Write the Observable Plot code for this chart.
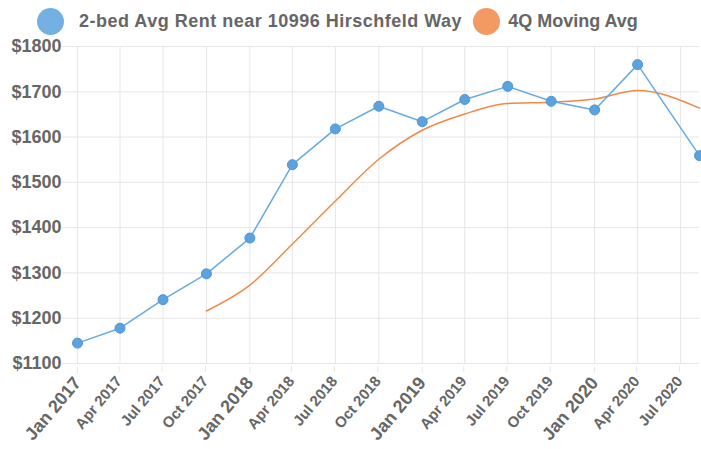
<!DOCTYPE html>
<html>
<head>
<meta charset="utf-8">
<script src="https://cdn.jsdelivr.net/npm/d3@7"></script>
<script src="https://cdn.jsdelivr.net/npm/@observablehq/plot@0.6"></script>
<style>
  body { margin: 0; background: #fff; font-family: "Liberation Sans", Arial, sans-serif; }
  #legend { height: 34px; display: flex; align-items: center; padding-left: 37px; padding-top: 9px; box-sizing: border-box; }
  .sw { width: 27px; height: 27px; border-radius: 50%; flex: none; }
  .lab { font-size: 18px; font-weight: bold; color: #666; white-space: nowrap; }
  svg { overflow: visible; }
</style>
</head>
<body>
<div id="legend"></div>
<div id="chart"></div>
<script>
// ---- data ----
const seriesNames = ["2-bed Avg Rent near 10996 Hirschfeld Way", "4Q Moving Avg"];
const dates = ["2017-01-01","2017-04-01","2017-07-01","2017-10-01","2018-01-01","2018-04-01","2018-07-01","2018-10-01",
               "2019-01-01","2019-04-01","2019-07-01","2019-10-01","2020-01-01","2020-04-01","2020-08-10"];
const rent = [1145, 1178, 1241, 1298, 1377, 1539, 1618, 1668, 1634, 1683, 1712, 1679, 1660, 1760, 1559];
const movingAvg = [null, null, null, 1216, 1273, 1364, 1459, 1551, 1615, 1651, 1674, 1677, 1684, 1703, 1664];
const majorTicks = ["2017-01-01","2018-01-01","2019-01-01","2020-01-01"];
const minorTicks = ["2017-04-01","2017-07-01","2017-10-01","2018-04-01","2018-07-01","2018-10-01",
                    "2019-04-01","2019-07-01","2019-10-01","2020-04-01","2020-07-01"];
const yTicks = [1100, 1200, 1300, 1400, 1500, 1600, 1700, 1800];

// ---- styles ----
const blue = "#66aae1", blueDot = "#5ca2dd", blueLegend = "#74b1e2";
const orange = "#f0884a", orangeLegend = "#f39a62";
const textColor = "#666";
const gridColor = "#e6e6e6";
const font = "'Liberation Sans', Arial, sans-serif";

const parse = d3.utcParse("%Y-%m-%d");
const rows = dates.map((d, i) => ({date: parse(d), rent: rent[i], ma: movingAvg[i]}));
const maRows = rows.filter(r => r.ma != null);
const allTicks = majorTicks.concat(minorTicks).map(parse);

// legend
const legend = document.getElementById("legend");
const legendColors = [blueLegend, orangeLegend];
const gaps = [[15, 11], [8, 0]];
const spacing = ["0.5px", "0px"];
seriesNames.forEach((name, i) => {
  const sw = document.createElement("span");
  sw.className = "sw";
  sw.style.background = legendColors[i];
  sw.style.marginRight = gaps[i][0] + "px";
  const lab = document.createElement("span");
  lab.className = "lab";
  lab.textContent = name;
  lab.style.letterSpacing = spacing[i];
  lab.style.marginRight = gaps[i][1] + "px";
  legend.append(sw, lab);
});

const fmt = d3.utcFormat("%b %Y");

const chart = Plot.plot({
  width: 701,
  height: 415,
  marginTop: 12,
  marginBottom: 86,
  marginLeft: 77,
  marginRight: 2,
  style: {fontFamily: font, background: "white", overflow: "visible"},
  x: {type: "utc", domain: [rows[0].date, rows[rows.length - 1].date]},
  y: {domain: [1100, 1800]},
  marks: [
    Plot.gridX(allTicks, {stroke: gridColor, strokeOpacity: 1}),
    Plot.gridY(yTicks, {stroke: gridColor, strokeOpacity: 1}),
    Plot.axisY(yTicks, {tickSize: 15, tickPadding: 1, tickFormat: d => "$" + d, fontSize: 18, fontWeight: "bold",
                        fill: textColor, stroke: gridColor, label: null}),
    Plot.axisX(majorTicks.map(parse), {tickSize: 6, tickPadding: 6, tickRotate: -50, tickFormat: fmt, fontSize: 18,
                        fontWeight: "bold", fill: textColor, stroke: gridColor, label: null, dx: 0, dy: 4}),
    Plot.axisX(minorTicks.map(parse), {tickSize: 6, tickPadding: 6, tickRotate: -50, tickFormat: fmt, fontSize: 15,
                        fontWeight: "bold", fill: textColor, stroke: gridColor, label: null, dx: -1, dy: 3}),
    Plot.line(maRows, {x: "date", y: "ma", stroke: orange, strokeWidth: 1.5, curve: "monotone-x"}),
    Plot.line(rows, {x: "date", y: "rent", stroke: blue, strokeWidth: 1.5}),
    Plot.dot(rows, {x: "date", y: "rent", r: 5, fill: blueDot, stroke: "#4f97d6", strokeWidth: 1})
  ]
});
document.getElementById("chart").append(chart);
</script>
</body>
</html>
